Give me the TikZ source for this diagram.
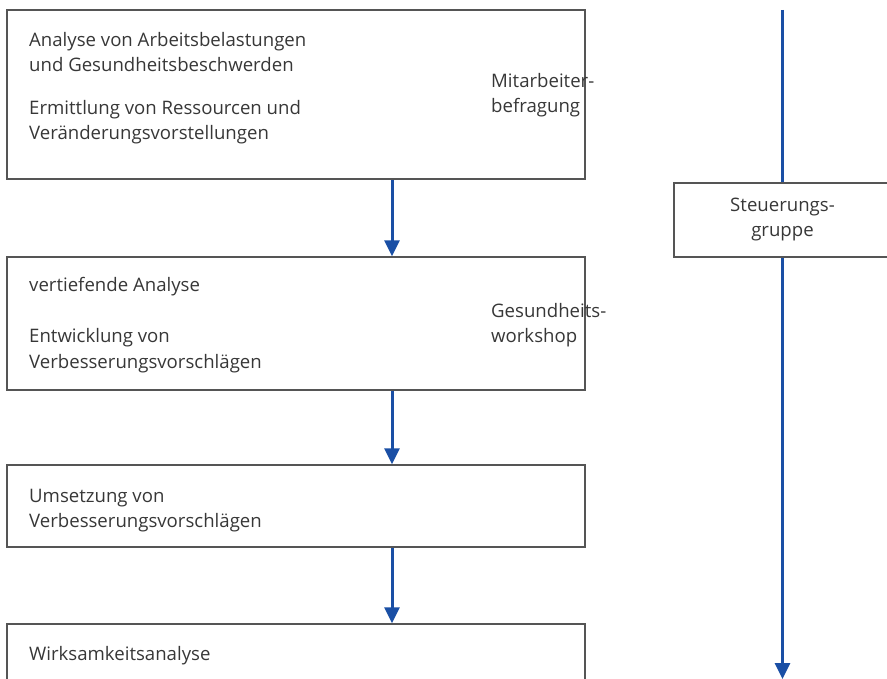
\documentclass[tikz,border=0pt]{standalone}
\usepackage{fontspec}
\setmainfont{Open Sans}
\usepackage{tikz}
\usetikzlibrary{arrows.meta, positioning, calc}

\definecolor{flowblue}{RGB}{26,79,165}
\definecolor{boxgray}{RGB}{85,85,85}
\definecolor{txtgray}{RGB}{55,55,55}

\begin{document}
\begin{tikzpicture}[
    x=1pt, y=-1pt,
    every node/.style={font=\fontsize{18.6}{25}\selectfont, text=txtgray},
    phase/.style={rectangle, draw=boxgray, line width=1.3pt, minimum width=578pt, minimum height=#1, inner sep=0pt},
    label/.style={anchor=base west, align=left, inner sep=0pt},
    flow/.style={-{Triangle[length=16pt, width=15pt]}, draw=flowblue, line width=3pt}
]
\useasboundingbox (0,0) rectangle (887,679);
% phases on the left
\node[phase=169pt] (survey) at (296,94.5) {};
\node[phase=133pt] (workshop) at (296,323.5) {};
\node[phase=82pt] (implement) at (296,506) {};
\node[phase=96pt] (evaluate) at (296,672) {};
% steering group on the right
\node[phase=74pt, minimum width=217pt, align=center, inner sep=0pt] (steer) at (782.5,220) {Steuerungs-\\gruppe};
% texts of the phases (base = last line)
\node[label] (t1a) at (29,72) {Analyse von Arbeitsbelastungen\\und Gesundheitsbeschwerden};
\node[label] (t1b) at (29,140) {Ermittlung von Ressourcen und\\Veränderungsvorstellungen};
\node[label] (t1c) at (491,113) {Mitarbeiter-\\befragung};
\node[label] (t2a) at (29,292) {vertiefende Analyse};
\node[label] (t2b) at (29,368) {Entwicklung von\\Verbesserungsvorschlägen};
\node[label] (t2c) at (491,343) {Gesundheits-\\workshop};
\node[label] (t3a) at (29,527) {Umsetzung von\\Verbesserungsvorschlägen};
\node[label] (t4a) at (29,660) {Wirksamkeitsanalyse};
% connectors
\coordinate (axis) at (392,0);
\coordinate (top) at (782.5,10);
\coordinate (bottom) at (782.5,679);
\draw[flow] (survey.south -| axis) -- (workshop.north -| axis);
\draw[flow] (workshop.south -| axis) -- (implement.north -| axis);
\draw[flow] (implement.south -| axis) -- (evaluate.north -| axis);
\draw[flowblue, line width=3pt] (top) -- (steer.north);
\draw[flow] (steer.south) -- (bottom);
\end{tikzpicture}
\end{document}
